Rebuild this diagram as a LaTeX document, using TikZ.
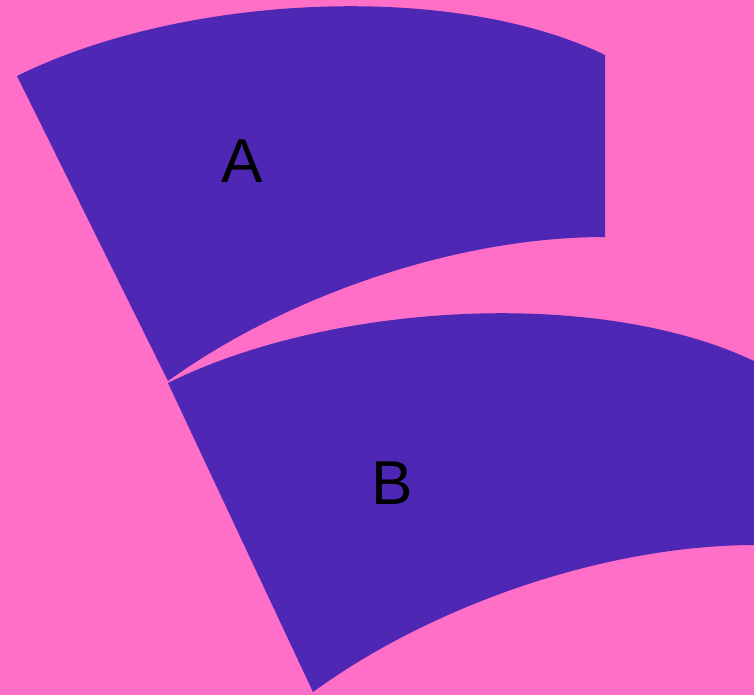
\documentclass[tikz,border=0pt]{standalone}
\usepackage{fontspec}
\setmainfont{Liberation Sans}
\definecolor{bgpink}{HTML}{FF6EC7}
\definecolor{piece}{HTML}{4F27B5}
\begin{document}
\begin{tikzpicture}[x=1pt,y=-1pt,
  piecefill/.style={fill=piece,draw=none},
  lbl/.style={text=black,font=\fontsize{62}{62}\selectfont,inner sep=0pt}]
\useasboundingbox (0,0) rectangle (754,695);
\clip (0,0) rectangle (754,695);
\fill[bgpink] (0,0) rectangle (754,695);
% piece A
\path[piecefill] (17,76) .. controls (180,-5) and (450,-20) .. (605,55)
  -- (605,237) .. controls (450,237) and (280,300) .. (168,381) -- cycle;
% piece B
\path[piecefill] (168,383) .. controls (331,302) and (601,287) .. (756,362)
  -- (756,545) .. controls (601,545) and (428,608) .. (313,692) -- cycle;
\node[lbl] (A) at (242,161) {A};
\node[lbl] (B) at (392,483) {B};
\end{tikzpicture}
\end{document}
